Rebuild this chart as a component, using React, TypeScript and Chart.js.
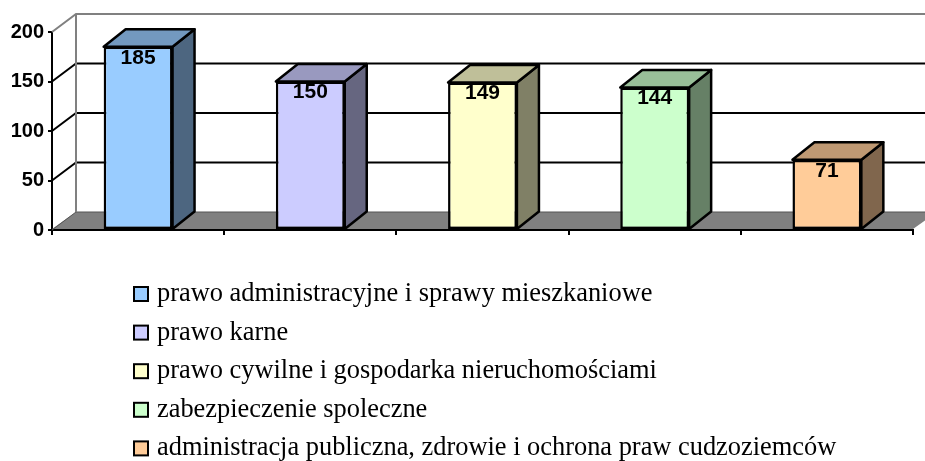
import React, { useEffect, useRef } from 'react';
import { Chart, registerables } from 'chart.js';
Chart.register(...registerables);

const categories = [
  'prawo administracyjne i sprawy mieszkaniowe',
  'prawo karne',
  'prawo cywilne i gospodarka nieruchomościami',
  'zabezpieczenie spoleczne',
  'administracja publiczna, zdrowie i ochrona praw cudzoziemców',
];
const values = [185, 150, 149, 144, 71];
const frontColors = ['#99CCFF', '#CCCCFF', '#FFFFCC', '#CCFFCC', '#FFCC99'];
const sideColors = ['#4D6680', '#666680', '#808066', '#668066', '#80664D'];
const topColors = ['#7399BF', '#9999BF', '#BFBF99', '#99BF99', '#BF9973'];
const yTickValues = [0, 50, 100, 150, 200];

const WALL_DX = 24;
const WALL_DY = -18;
const BAR_DX = 22;
const BAR_DY = -17.5;

const threeD = {
  id: 'threeD',
  beforeDatasetsDraw(chart: any) {
    const { ctx, chartArea, scales } = chart;
    const { left, right, bottom } = chartArea;
    const y = scales.y;
    const W = chart.width;
    ctx.save();
    // floor
    ctx.beginPath();
    ctx.moveTo(left, bottom - 1);
    ctx.lineTo(right, bottom - 1);
    ctx.lineTo(right + WALL_DX, bottom + WALL_DY);
    ctx.lineTo(left + WALL_DX, bottom + WALL_DY);
    ctx.closePath();
    ctx.fillStyle = '#808080';
    ctx.fill();
    ctx.lineWidth = 1;
    ctx.strokeStyle = '#555555';
    ctx.beginPath();
    ctx.moveTo(left, bottom);
    ctx.lineTo(left + WALL_DX, bottom + WALL_DY);
    ctx.lineTo(W, bottom + WALL_DY);
    ctx.stroke();
    // walls and gridlines
    ctx.lineWidth = 2;
    for (const v of yTickValues) {
      if (v === 0) continue;
      const py = y.getPixelForValue(v);
      ctx.strokeStyle = v === 200 ? '#808080' : '#000000';
      ctx.beginPath();
      ctx.moveTo(left, py);
      ctx.lineTo(left + WALL_DX, py + WALL_DY);
      ctx.lineTo(W, py + WALL_DY);
      ctx.stroke();
    }
    const topY = y.getPixelForValue(200) + WALL_DY;
    ctx.strokeStyle = '#808080';
    ctx.beginPath();
    ctx.moveTo(left + WALL_DX, topY);
    ctx.lineTo(left + WALL_DX, bottom + WALL_DY);
    ctx.stroke();
    ctx.restore();
  },
  afterDatasetsDraw(chart: any) {
    const { ctx } = chart;
    const meta = chart.getDatasetMeta(0);
    ctx.save();
    ctx.lineWidth = 2.5;
    ctx.strokeStyle = '#000000';
    ctx.lineJoin = 'round';
    meta.data.forEach((bar: any, i: number) => {
      const { x, y, base, width } = bar.getProps(['x', 'y', 'base', 'width'], true);
      const L = x - width / 2;
      const R = x + width / 2;
      const T = y;
      const B = base;
      // side
      ctx.beginPath();
      ctx.moveTo(R, T);
      ctx.lineTo(R + BAR_DX, T + BAR_DY);
      ctx.lineTo(R + BAR_DX, B + BAR_DY);
      ctx.lineTo(R, B);
      ctx.closePath();
      ctx.fillStyle = sideColors[i];
      ctx.fill();
      ctx.stroke();
      // top
      ctx.beginPath();
      ctx.moveTo(L, T);
      ctx.lineTo(L + BAR_DX, T + BAR_DY);
      ctx.lineTo(R + BAR_DX, T + BAR_DY);
      ctx.lineTo(R, T);
      ctx.closePath();
      ctx.fillStyle = topColors[i];
      ctx.fill();
      ctx.stroke();
      // label
      ctx.fillStyle = '#000000';
      ctx.font = 'bold 21px "Liberation Sans", Arial, sans-serif';
      ctx.textAlign = 'center';
      ctx.textBaseline = 'middle';
      ctx.fillText(String(values[i]), x, T + 11);
    });
    ctx.restore();
  },
  afterDraw(chart: any) {
    const { ctx } = chart;
    ctx.save();
    ctx.font = '26.4px "Liberation Serif", "Times New Roman", serif';
    ctx.textAlign = 'left';
    ctx.textBaseline = 'alphabetic';
    categories.forEach((name, i) => {
      const baseY = 301 + i * 38.6;
      ctx.fillStyle = frontColors[i];
      ctx.fillRect(134, baseY - 14, 14, 14);
      ctx.lineWidth = 2;
      ctx.strokeStyle = '#000000';
      ctx.strokeRect(134, baseY - 14, 14, 14);
      ctx.fillStyle = '#000000';
      ctx.fillText(name, 157, baseY);
    });
    ctx.restore();
  },
};

export default function App() {
  const ref = useRef<HTMLCanvasElement>(null);
  useEffect(() => {
    if (!ref.current) return;
    const chart = new Chart(ref.current, {
      type: 'bar',
      data: {
        labels: categories,
        datasets: [
          {
            data: values,
            backgroundColor: frontColors,
            borderColor: '#000000',
            borderWidth: 2.5,
            borderSkipped: false,
            categoryPercentage: 1,
            barPercentage: 0.4,
          },
        ],
      },
      options: {
        responsive: false,
        animation: false,
        devicePixelRatio: 1,
        layout: { padding: { top: 32, right: 12, bottom: 0, left: 0 } },
        plugins: { legend: { display: false }, tooltip: { enabled: false } },
        scales: {
          x: {
            grid: {
              offset: true,
              drawOnChartArea: false,
              drawTicks: true,
              tickLength: 5,
              color: '#000000',
              lineWidth: 2,
            },
            border: { display: true, color: '#000000', width: 2 },
            ticks: { display: false },
            afterFit: (scale: any) => {
              scale.height = 231;
            },
          },
          y: {
            min: 0,
            max: 200,
            ticks: {
              stepSize: 50,
              color: '#000000',
              padding: 4,
              font: { family: '"Liberation Sans", Arial, sans-serif', size: 20, weight: 'bold' },
            },
            grid: {
              drawOnChartArea: false,
              drawTicks: true,
              tickLength: 4,
              color: '#000000',
              lineWidth: 2,
            },
            border: { display: true, color: '#000000', width: 2 },
            afterFit: (scale: any) => {
              scale.width = 52;
            },
          },
        },
      },
      plugins: [threeD],
    });
    return () => chart.destroy();
  }, []);
  return (
    <div style={{ position: 'fixed', left: 0, top: 0, width: 925, height: 461, background: '#ffffff' }}>
      <canvas ref={ref} width={925} height={461} style={{ display: 'block' }} />
    </div>
  );
}
